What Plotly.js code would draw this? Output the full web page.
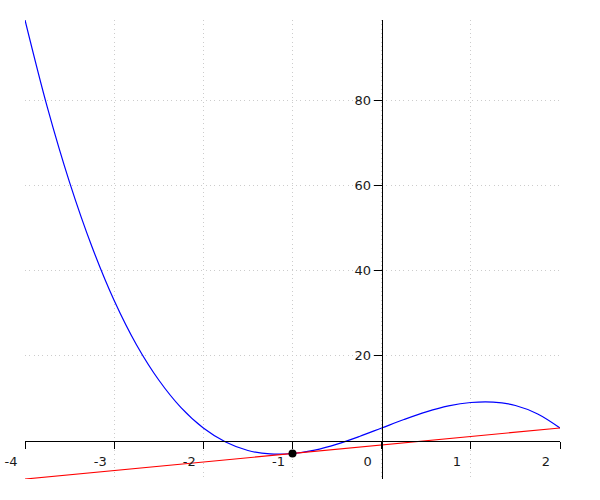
<!DOCTYPE html>
<html>
<head>
<meta charset="utf-8">
<script src="https://cdn.plot.ly/plotly-3.0.1.min.js"></script>
<style>html,body{margin:0;padding:0;background:#fff;}#chart{width:600px;height:500px;}</style>
</head>
<body>
<div id="chart"></div>
<script>
// Curve values
const curveX = [-4, -3.75, -3.5, -3.25, -3, -2.75, -2.5, -2.25, -2, -1.75, -1.5, -1.25, -1, -0.75, -0.5, -0.25, 0, 0.25, 0.5, 0.75, 1, 1.25, 1.5, 1.75, 2];
const curveY = [99, 78.5, 60.8, 45.7, 33, 22.6, 14.3, 7.8, 3, -0.3, -2.3, -3.1, -3, -2.2, -0.8, 1.0, 3, 5.0, 6.8, 8.2, 9, 9.1, 8.3, 6.3, 3];
// Tangent line endpoints
const lineX = [-4, 2];
const lineY = [-9, 3];
// Point of tangency
const pointX = [-1];
const pointY = [-3];
// Ticks
const xTicks = [-4, -3, -2, -1, 0, 1, 2];
const xTickLabels = ['-4', '-3', '-2', '-1', '0', '1', '2'];
const yTicks = [20, 40, 60, 80];
const yTickLabels = ['20', '40', '60', '80'];

const xRange = [-4, 2];
const yRange = [-9, 99];

const traces = [
  {x: curveX, y: curveY, mode: 'lines', line: {color: '#0000ff', width: 1.2, shape: 'spline'}, hoverinfo: 'skip'},
  {x: lineX, y: lineY, mode: 'lines', line: {color: '#ff0000', width: 1.2}, hoverinfo: 'skip'},
  {x: pointX, y: pointY, mode: 'markers', marker: {color: '#000000', size: 8}, hoverinfo: 'skip'}
];

const layout = {
  width: 600, height: 500,
  margin: {l: 25, r: 40, t: 20, b: 21},
  showlegend: false,
  paper_bgcolor: '#fff', plot_bgcolor: '#fff',
  font: {family: 'DejaVu Sans', size: 13, color: '#1a1a1a'},
  xaxis: {
    range: xRange,
    tickvals: xTicks, ticktext: xTickLabels,
    anchor: 'free',
    position: (0 - yRange[0]) / (yRange[1] - yRange[0]),
    showline: true, linecolor: '#000', linewidth: 1,
    ticks: 'outside', ticklen: 7, tickcolor: '#000', tickwidth: 1,
    ticklabelshift: -14, ticklabelstandoff: 2,
    showgrid: true, gridcolor: '#cccccc', griddash: '1px,3.3px', gridwidth: 1,
    zeroline: false, fixedrange: true
  },
  yaxis: {
    range: yRange,
    tickvals: yTicks, ticktext: yTickLabels,
    anchor: 'free',
    position: (0 - xRange[0]) / (xRange[1] - xRange[0]),
    showline: true, linecolor: '#000', linewidth: 1,
    ticks: 'outside', ticklen: 8, tickcolor: '#000', tickwidth: 1,
    ticklabelstandoff: 0,
    showgrid: true, gridcolor: '#cccccc', griddash: '1px,3.3px', gridwidth: 1,
    zeroline: false, fixedrange: true
  }
};

Plotly.newPlot('chart', traces, layout, {staticPlot: true});
</script>
</body>
</html>
